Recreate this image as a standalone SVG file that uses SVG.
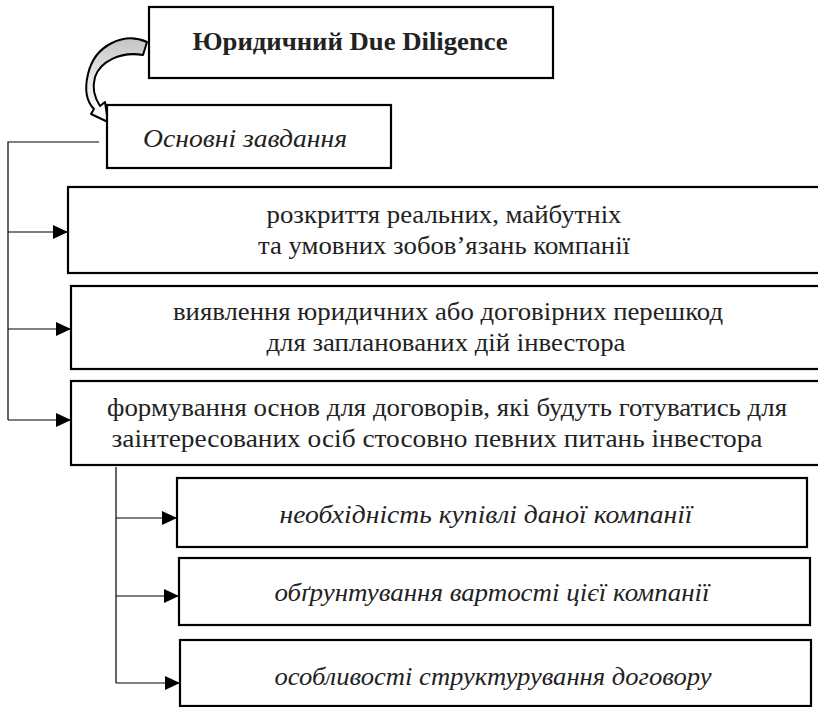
<svg xmlns="http://www.w3.org/2000/svg" width="818" height="707" viewBox="0 0 818 707">
<style>
.box{fill:#fff;stroke:#000;stroke-width:2.2}
.t{font-family:"Liberation Serif","Times New Roman",serif;font-size:25px;fill:#222;text-anchor:middle}
.b{font-weight:bold;font-size:25px}
.i{font-style:italic}
.ln{fill:none;stroke:#000;stroke-width:1.2}
</style>
<defs>
<marker id="ah" viewBox="0 0 15 14" refX="15" refY="7" markerWidth="15" markerHeight="14" markerUnits="userSpaceOnUse" orient="auto">
<path d="M0,0 L15,7 L0,14 Z" fill="#000"/>
</marker>
<linearGradient id="cg" x1="0" y1="0" x2="0" y2="1">
<stop offset="0" stop-color="#c4c4c4"/>
<stop offset="0.45" stop-color="#e6e6e6"/>
<stop offset="1" stop-color="#fff"/>
</linearGradient>
</defs>
<g id="connectors">
<path class="ln" d="M99,142 H8 V420" />
<path class="ln" d="M8,232 H68" marker-end="url(#ah)"/>
<path class="ln" d="M8,329 H71" marker-end="url(#ah)"/>
<path class="ln" d="M8,420 H71" marker-end="url(#ah)"/>
<path class="ln" d="M116,467 V683" />
<path class="ln" d="M116,518 H177" marker-end="url(#ah)"/>
<path class="ln" d="M116,596 H179" marker-end="url(#ah)"/>
<path class="ln" d="M116,683 H180" marker-end="url(#ah)"/>
<path id="curved-arrow" d="M147,42 C125,32 95,44 88,74 C84,91 87,102 94,109 L91,114 L108,122 L105,102 L100,106 C94,97 92,88 95,77 C100,62 120,51 143,55 Z" fill="url(#cg)" stroke="#000" stroke-width="2" stroke-linejoin="round"/>
</g>
<g id="n-title">
<rect class="box" x="149" y="7" width="404" height="71"/>
<text class="t b" x="350" y="50" textLength="315" lengthAdjust="spacingAndGlyphs">Юридичний Due Diligence</text>
</g>
<g id="n-tasks">
<rect class="box" x="107" y="105" width="284" height="63"/>
<text class="t i" x="245" y="147" textLength="204" lengthAdjust="spacingAndGlyphs">Основні завдання</text>
</g>
<g id="n-1">
<rect class="box" x="68" y="187" width="760" height="86"/>
<text class="t" x="444" y="223" textLength="355" lengthAdjust="spacingAndGlyphs">розкриття реальних, майбутніх</text>
<text class="t" x="444" y="254" textLength="372" lengthAdjust="spacingAndGlyphs">та умовних зобов’язань компанії</text>
</g>
<g id="n-2">
<rect class="box" x="71" y="286" width="760" height="83"/>
<text class="t" x="448" y="320" textLength="550" lengthAdjust="spacingAndGlyphs">виявлення юридичних або договірних перешкод</text>
<text class="t" x="446" y="351" textLength="359" lengthAdjust="spacingAndGlyphs">для запланованих дій інвестора</text>
</g>
<g id="n-3">
<rect class="box" x="71" y="381" width="760" height="84"/>
<text class="t" x="447" y="416" textLength="680" lengthAdjust="spacingAndGlyphs">формування основ для договорів, які будуть готуватись для</text>
<text class="t" x="437" y="447" textLength="651" lengthAdjust="spacingAndGlyphs">заінтересованих осіб стосовно певних питань інвестора</text>
</g>
<g id="n-4">
<rect class="box" x="177" y="478" width="630" height="69"/>
<text class="t i" x="486" y="523" textLength="413" lengthAdjust="spacingAndGlyphs">необхідність купівлі даної компанії</text>
</g>
<g id="n-5">
<rect class="box" x="179" y="558" width="631" height="67"/>
<text class="t i" x="492" y="601" textLength="435" lengthAdjust="spacingAndGlyphs">обґрунтування вартості цієї компанії</text>
</g>
<g id="n-6">
<rect class="box" x="180" y="640" width="631" height="66"/>
<text class="t i" x="493" y="685" textLength="437" lengthAdjust="spacingAndGlyphs">особливості структурування договору</text>
</g>
</svg>
